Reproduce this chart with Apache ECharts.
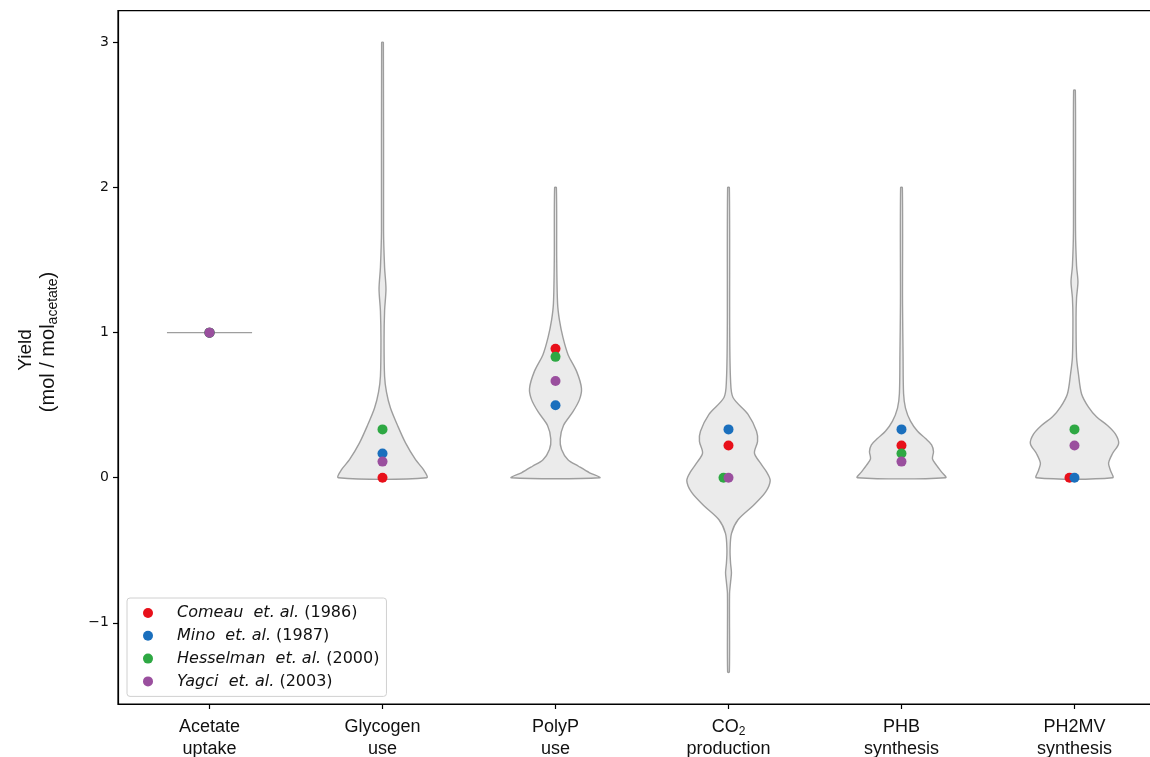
<!DOCTYPE html>
<html>
<head>
<meta charset="utf-8">
<script src="https://cdn.jsdelivr.net/npm/echarts@6/dist/echarts.min.js"></script>
<style>
html,body{margin:0;padding:0;background:#fff;}
#chart{width:1150px;height:757px;}
</style>
</head>
<body>
<div id="chart"></div>
<script>
// ---------- data ----------
const categories = ['Acetate\nuptake', 'Glycogen\nuse', 'PolyP\nuse', 'CO2\nproduction', 'PHB\nsynthesis', 'PH2MV\nsynthesis'];
const studyAuthors = ['Comeau  et. al.', 'Mino  et. al.', 'Hesselman  et. al.', 'Yagci  et. al.'];
const studyYears = ['(1986)', '(1987)', '(2000)', '(2003)'];
const comeau    = [1, 0,     0.889, 0.222, 0.222, 0];
const mino      = [1, 0.167, 0.5,   0.333, 0.333, 0];
const hesselman = [1, 0.333, 0.833, 0,     0.167, 0.333];
const yagci     = [1, 0.111, 0.667, 0,     0.111, 0.222];
const yTicks = [-1, 0, 1, 2, 3];

// violin outlines: y values and half-widths (fraction of category spacing)
const acetateY  = [1, 1];
const acetateW  = [0.246, 0.246];
const glycogenY = [0, 0.055, 0.124, 0.24, 0.36, 0.48, 0.59, 0.70, 0.95, 1.15, 1.3, 1.45, 1.7, 3.0];
const glycogenW = [0.255, 0.237, 0.191, 0.133, 0.087, 0.046, 0.023, 0.012, 0.009, 0.012, 0.020, 0.012, 0.006, 0.005];
const polypY    = [0, 0.034, 0.079, 0.124, 0.195, 0.265, 0.36, 0.455, 0.54, 0.617, 0.733, 0.85, 0.967, 1.084, 1.2, 1.5, 2.0];
const polypW    = [0.255, 0.197, 0.133, 0.072, 0.035, 0.027, 0.046, 0.101, 0.139, 0.150, 0.122, 0.072, 0.043, 0.023, 0.012, 0.007, 0.005];
const co2Y      = [-1.34, -0.8, -0.72, -0.655, -0.59, -0.5, -0.386, -0.29, -0.19, -0.1, -0.02, 0.04, 0.10, 0.17, 0.25, 0.32, 0.437, 0.553, 0.67, 1.0, 2.0];
const co2W      = [0.005, 0.006, 0.012, 0.017, 0.012, 0.009, 0.017, 0.055, 0.145, 0.214, 0.241, 0.220, 0.185, 0.150, 0.168, 0.162, 0.113, 0.026, 0.012, 0.007, 0.005];
const phbY      = [0, 0.04, 0.085, 0.13, 0.18, 0.227, 0.27, 0.32, 0.39, 0.48, 0.58, 0.85, 1.2, 2.0];
const phbW      = [0.255, 0.231, 0.203, 0.179, 0.185, 0.174, 0.139, 0.093, 0.052, 0.023, 0.012, 0.009, 0.006, 0.005];
const ph2mvY    = [0, 0.05, 0.1, 0.167, 0.235, 0.3, 0.36, 0.42, 0.486, 0.577, 0.713, 0.83, 1.1, 1.24, 1.35, 1.46, 1.7, 2.67];
const ph2mvW    = [0.220, 0.208, 0.197, 0.220, 0.255, 0.237, 0.191, 0.127, 0.081, 0.041, 0.023, 0.012, 0.009, 0.012, 0.020, 0.012, 0.006, 0.005];

const violinYs = [acetateY, glycogenY, polypY, co2Y, phbY, ph2mvY];
const violinWs = [acetateW, glycogenW, polypW, co2W, phbW, ph2mvW];

// ---------- styles ----------
const colors = ['#e8101a', '#1a6fbd', '#2ea843', '#9a4f9e'];
const dodgePx = [[0,0,0,0,0,-5],[0,0,0,0,0,0],[0,0,0,-5,0,0],[0,0,0,0,0,0]];
const seriesValues = [comeau, mino, hesselman, yagci];

const chart = echarts.init(document.getElementById('chart'), null, {renderer: 'canvas'});

const tickFont = 'DejaVu Sans';
const labelFont = 'Liberation Sans';

const violinSeries = {
  type: 'custom',
  name: 'violin',
  z: 1,
  silent: true,
  data: categories.map((c, i) => [i]),
  renderItem: function (params, api) {
    const i = api.value(0);
    const ys = violinYs[i], ws = violinWs[i];
    const pts = [];
    for (let k = 0; k < ys.length; k++) pts.push(api.coord([i + ws[k], ys[k]]));
    for (let k = ys.length - 1; k >= 0; k--) pts.push(api.coord([i - ws[k], ys[k]]));
    return {
      type: 'polygon',
      shape: {points: pts, smooth: ys.length > 2 ? 0.3 : 0},
      style: {fill: '#ebebeb', stroke: '#9e9e9e', lineWidth: 1.4}
    };
  }
};

const scatterSeries = seriesValues.map((vals, s) => ({
  type: 'scatter',
  name: studyAuthors[s] + ' ' + studyYears[s],
  z: 3,
  symbol: 'circle',
  symbolSize: 10,
  itemStyle: {color: colors[s], opacity: 1},
  data: vals.map((v, i) => ({value: [i, v], symbolOffset: [dodgePx[s][i], 0]}))
}));

const option = {
  animation: false,
  backgroundColor: '#fff',
  grid: {left: 118, top: 10.6, width: 1048, bottom: 53, show: true, borderColor: '#000', borderWidth: 1.2,
         containLabel: false, outerBoundsMode: 'none'},
  xAxis: {
    type: 'value',
    min: -0.529, max: 5.529,
    axisLine: {show: true, onZero: false, lineStyle: {color: '#000', width: 1.2}},
    splitLine: {show: false},
    axisTick: {show: true, length: 5, lineStyle: {color: '#000', width: 1.2}, customValues: categories.map((c, i) => i)},
    axisLabel: {
      customValues: categories.map((c, i) => i),
      margin: 12,
      fontFamily: labelFont, fontSize: 18, lineHeight: 22, color: '#111',
      formatter: function (v) {
        const lab = categories[Math.round(v)];
        if (lab.indexOf('CO2') === 0) return '{a|CO}{b|2}\n' + lab.split('\n')[1];
        return lab;
      },
      rich: {
        a: {fontFamily: labelFont, fontSize: 18, lineHeight: 22, color: '#111'},
        b: {fontFamily: labelFont, fontSize: 12, lineHeight: 11, verticalAlign: 'bottom', color: '#111'}
      }
    }
  },
  yAxis: {
    type: 'value',
    min: -1.56, max: 3.22,
    axisLine: {show: true, onZero: false, lineStyle: {color: '#000', width: 1.2}},
    splitLine: {show: false},
    axisTick: {show: true, length: 5, lineStyle: {color: '#000', width: 1.2}, customValues: yTicks},
    axisLabel: {
      customValues: yTicks,
      margin: 9,
      fontFamily: tickFont, fontSize: 14, color: '#111',
      formatter: function (v) { return v < 0 ? '\u2212' + Math.abs(v) : String(v); }
    }
  },
  legend: {
    orient: 'vertical',
    left: 127, top: 598,
    padding: [7, 7, 7, 16],
    itemWidth: 10, itemHeight: 10, itemGap: 6.8,
    icon: 'circle',
    borderColor: '#d0d0d0', borderWidth: 1, borderRadius: 3,
    backgroundColor: 'rgba(255,255,255,0.85)',
    data: scatterSeries.map(s => s.name),
    formatter: function (name) {
      const idx = scatterSeries.findIndex(s => s.name === name);
      return '{i|' + studyAuthors[idx] + '}{r| ' + studyYears[idx] + '}';
    },
    textStyle: {
      rich: {
        i: {fontFamily: tickFont, fontStyle: 'italic', fontSize: 16, lineHeight: 18, color: '#111', padding: [0, 0, 0, 19]},
        r: {fontFamily: tickFont, fontSize: 16, lineHeight: 18, color: '#111'}
      }
    }
  },
  graphic: [
    {type: 'text', x: 26, y: 350, rotation: Math.PI / 2,
     style: {text: 'Yield', fontFamily: labelFont, fontSize: 19, fill: '#111', align: 'center', verticalAlign: 'middle'}},
    {type: 'text', x: 48, y: 342, rotation: Math.PI / 2,
     style: {text: '(mol / mol{s|acetate})', fontFamily: labelFont, fontSize: 20, lineHeight: 24, fill: '#111', align: 'center', verticalAlign: 'middle',
       rich: {s: {fontFamily: labelFont, fontSize: 14, lineHeight: 12, verticalAlign: 'bottom', fill: '#111'}}}}
  ],
  series: [violinSeries].concat(scatterSeries)
};
chart.setOption(option);
</script>
</body>
</html>
